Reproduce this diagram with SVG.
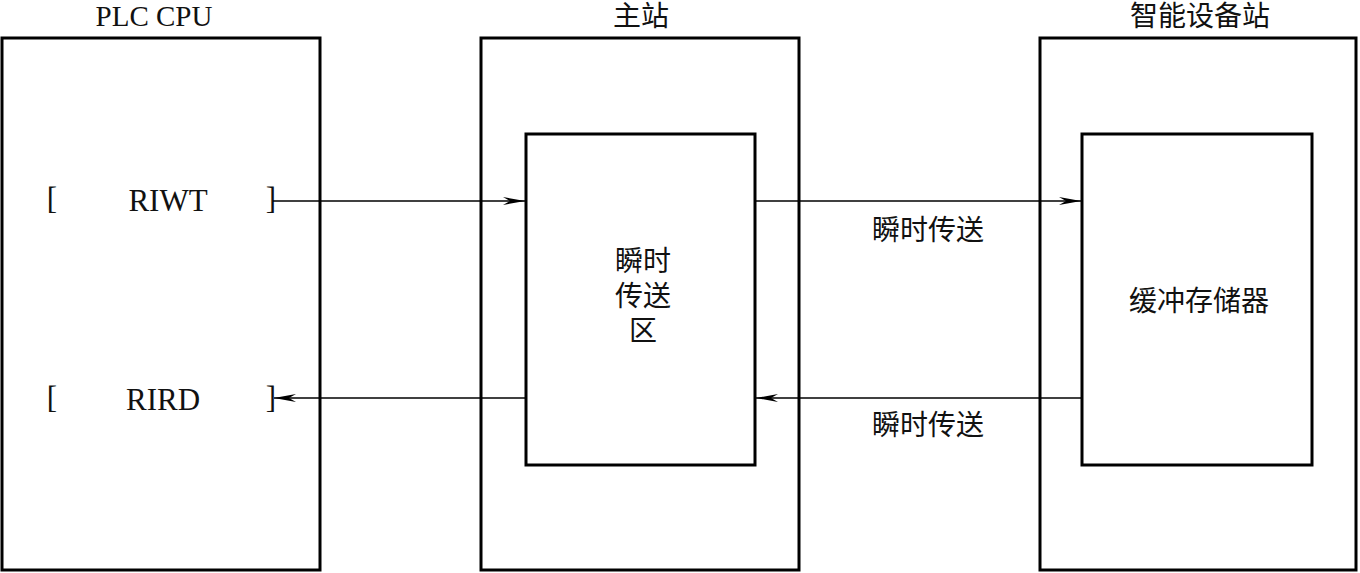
<svg xmlns="http://www.w3.org/2000/svg" width="1360" height="573" viewBox="0 0 1360 573">
<style>
.box{fill:none;stroke:#000;stroke-width:3}
.conn{fill:none;stroke:#000;stroke-width:1.3}
.lat{font-family:"Liberation Serif",serif;font-size:29px;fill:#111}
.big{font-size:31px}
.cjk{font-family:"Noto Sans CJK SC",sans-serif;font-size:28px;fill:#111}
</style>
<defs>
<marker id="ah" markerUnits="userSpaceOnUse" markerWidth="24" markerHeight="10" viewBox="-22 -5 23 10" refX="0" refY="0" orient="auto">
<path d="M0,0 L-22,-4 L-15,0 L-22,4 Z" fill="#000"/>
</marker>
</defs>
<rect width="1360" height="573" fill="#fff"/>
<g id="plc">
<rect class="box" x="2" y="38" width="318" height="532"/>
<text class="lat" x="154" y="26" text-anchor="middle">PLC CPU</text>
<text class="lat big" x="52" y="209" text-anchor="middle">[</text>
<text class="lat big" x="168" y="211" text-anchor="middle">RIWT</text>
<text class="lat big" x="271" y="209" text-anchor="middle">]</text>
<text class="lat big" x="52" y="408" text-anchor="middle">[</text>
<text class="lat big" x="163" y="410" text-anchor="middle">RIRD</text>
<text class="lat big" x="271" y="408" text-anchor="middle">]</text>
</g>
<g id="master">
<rect class="box" x="481" y="38" width="318" height="532"/>
<text class="cjk" x="641" y="26" text-anchor="middle">主站</text>
</g>
<g id="transfer-area">
<rect class="box" x="526" y="134" width="229" height="331"/>
<text class="cjk" text-anchor="middle"><tspan x="643" y="271">瞬时</tspan><tspan x="643" y="306">传送</tspan><tspan x="643" y="341">区</tspan></text>
</g>
<g id="device">
<rect class="box" x="1040" y="38" width="316" height="532"/>
<text class="cjk" x="1200" y="26" text-anchor="middle">智能设备站</text>
</g>
<g id="buffer">
<rect class="box" x="1082" y="134" width="230" height="331"/>
<text class="cjk" x="1199" y="311" text-anchor="middle">缓冲存储器</text>
</g>
<g id="connectors">
<line class="conn" x1="273" y1="201" x2="525" y2="201" marker-end="url(#ah)"/>
<line class="conn" x1="755" y1="201" x2="1081" y2="201" marker-end="url(#ah)"/>
<line class="conn" x1="1082" y1="398" x2="756" y2="398" marker-end="url(#ah)"/>
<line class="conn" x1="526" y1="398" x2="274" y2="398" marker-end="url(#ah)"/>
<text class="cjk" x="928" y="240" text-anchor="middle">瞬时传送</text>
<text class="cjk" x="928" y="435" text-anchor="middle">瞬时传送</text>
</g>
</svg>
